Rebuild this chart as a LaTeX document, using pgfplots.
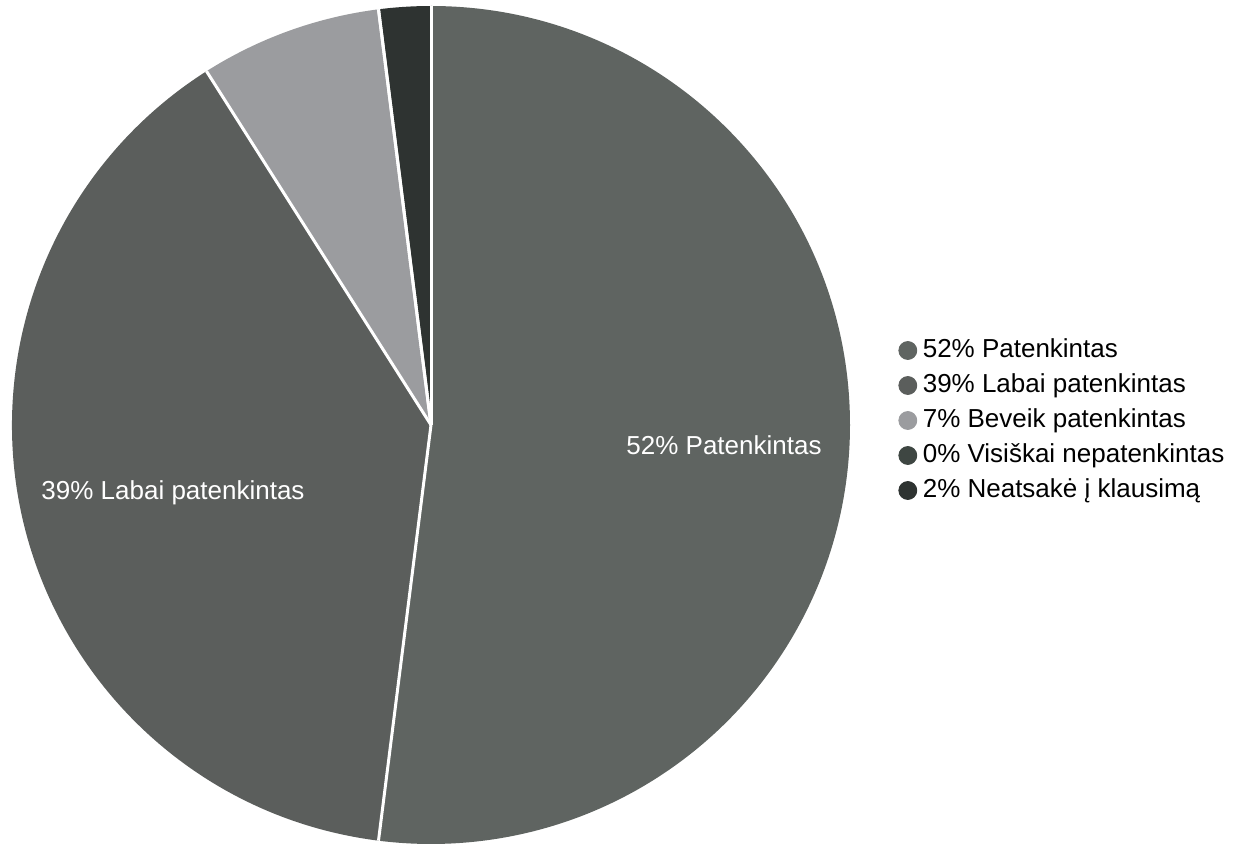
\documentclass[border=0pt]{standalone}
\usepackage{fontspec}
\setmainfont{Liberation Sans}
\usepackage{pgfplots}
\usepackage{pgfplotstable}
\pgfplotsset{compat=1.18}
\definecolor{c0}{HTML}{5F6461}
\definecolor{c1}{HTML}{5B5E5C}
\definecolor{c2}{HTML}{9B9C9F}
\definecolor{c3}{HTML}{3E4642}
\definecolor{c4}{HTML}{2E3331}

% shares in %, clockwise from 12 o'clock
\pgfplotstableread{
share
52
39
7
0
2
}\piedata

% cumulative start/end angles of each slice
\def\cum{0}
\foreach \i in {0,...,4}{%
  \pgfplotstablegetelem{\i}{share}\of\piedata
  \pgfmathsetmacro\aS{90-3.6*\cum}%
  \pgfmathsetmacro\aE{90-3.6*(\cum+\pgfplotsretval)}%
  \expandafter\xdef\csname angS\i\endcsname{\aS}%
  \expandafter\xdef\csname angE\i\endcsname{\aE}%
  \pgfmathsetmacro\newcum{\cum+\pgfplotsretval}%
  \xdef\cum{\newcum}%
}

\begin{document}
\begin{tikzpicture}
\begin{axis}[
  width=619.5pt, height=423.5pt, scale only axis,
  hide axis, clip=false,
  xmin=0, xmax=1239, ymin=0, ymax=847,
  legend cell align=left,
  legend style={at={(axis cs:892,426.5)}, anchor=west, draw=none, fill=none,
    font=\fontsize{13}{15.6}\selectfont, row sep=4.5pt,
    nodes={inner sep=0pt, text height=10pt, text depth=3pt}},
  legend image code/.code={\fill[#1] (4.5pt,0pt) circle (4.5pt);
    \path[draw=none,fill=none] (0pt,0pt) -- (12pt,0pt);},
]
\pgfplotsinvokeforeach{0,...,4}{
  \fill[c#1] (axis cs:431,422) -- ++(\csname angS#1\endcsname:209.5pt)
    arc[start angle=\csname angS#1\endcsname, end angle=\csname angE#1\endcsname, radius=209.5pt] -- cycle;
}
\pgfplotsinvokeforeach{0,...,4}{
  \draw[white, line width=1.5pt] (axis cs:431,422) -- ++(\csname angS#1\endcsname:209.5pt);
}
\node[white, font=\fontsize{13}{15.6}\selectfont] at (axis cs:724,402) {52\% Patenkintas};
\node[white, font=\fontsize{13}{15.6}\selectfont] at (axis cs:173,354) {39\% Labai patenkintas};

\addlegendimage{c0}\addlegendentry{52\% Patenkintas}
\addlegendimage{c1}\addlegendentry{39\% Labai patenkintas}
\addlegendimage{c2}\addlegendentry{7\% Beveik patenkintas}
\addlegendimage{c3}\addlegendentry{0\% Visiškai nepatenkintas}
\addlegendimage{c4}\addlegendentry{2\% Neatsakė į klausimą}
\end{axis}
\pgfresetboundingbox
\path[use as bounding box] (0pt,0pt) rectangle (619.5pt,423.5pt);
\end{tikzpicture}
\end{document}
